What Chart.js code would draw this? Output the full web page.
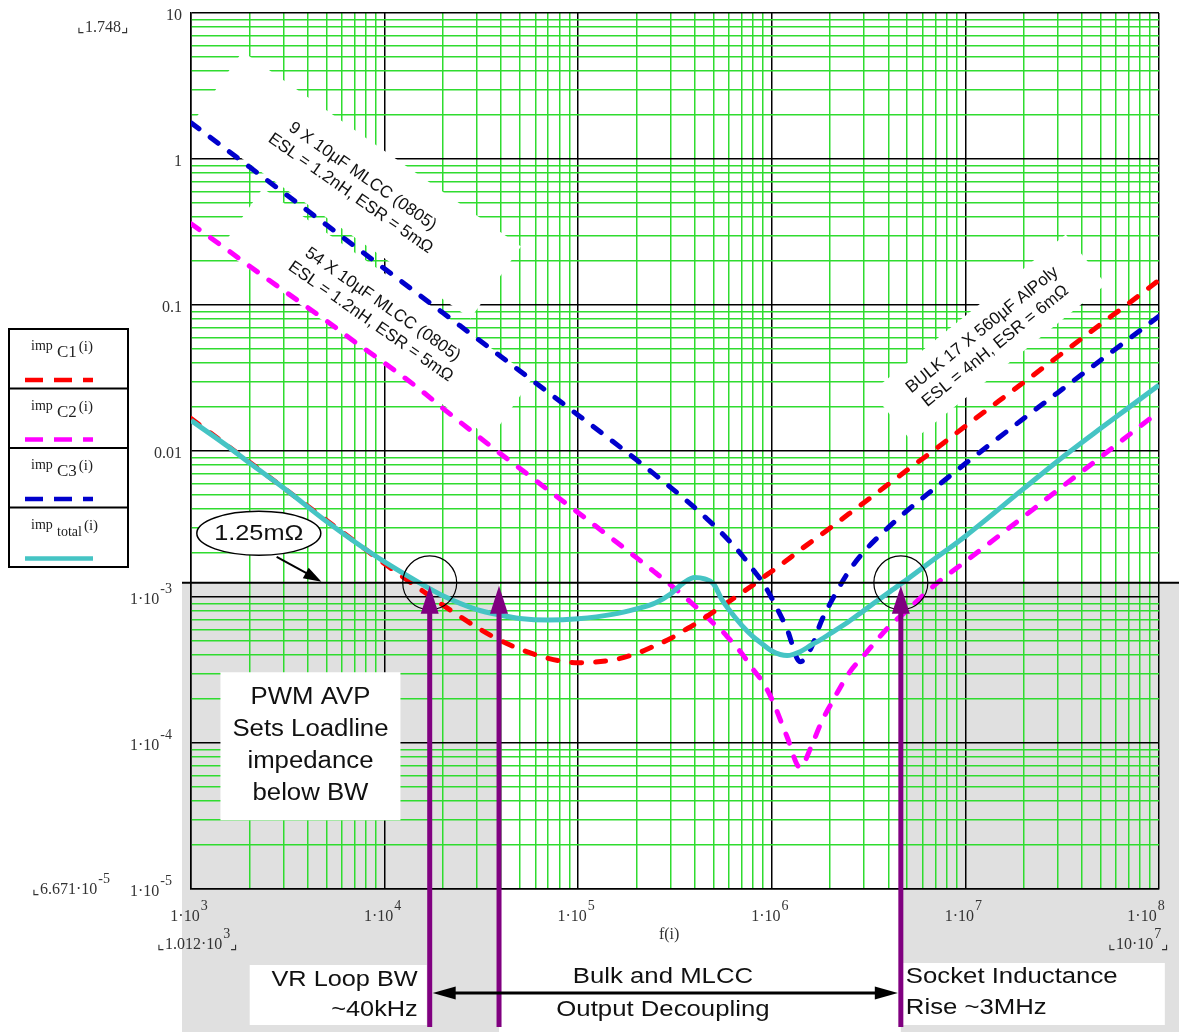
<!DOCTYPE html>
<html>
<head>
<meta charset="utf-8">
<title>VR output impedance</title>
<script src="https://cdn.jsdelivr.net/npm/chart.js@4.4.1/dist/chart.umd.min.js"></script>
<style>
  html, body { margin: 0; padding: 0; background: #fff; }
</style>
</head>
<body>
<canvas id="myChart" width="1179" height="1032"></canvas>
<script>
// frequency points (Hz) shared by all curves
const freq = [1e3, 1.5e3, 2e3, 3e3, 5e3, 7e3, 1e4, 1.5e4, 2e4, 3e4, 4e4, 5e4, 7e4,
  1e5, 1.5e5, 2e5, 2.5e5, 3e5, 3.5e5, 4e5, 4.5e5, 5e5, 5.5e5, 6e5, 7e5, 8e5, 9e5,
  1e6, 1.2e6, 1.4e6, 1.6e6, 1.8e6, 2e6, 2.5e6, 3e6, 4e6, 5e6, 7e6,
  1e7, 2e7, 3e7, 5e7, 7e7, 1e8];

// impedance in ohms
const impC1 = [0.0167, 0.0112, 0.0084, 0.0056, 0.00336, 0.00241, 0.00169, 0.00115, 0.00088, 0.00062, 0.0005, 0.00044, 0.00038,
  0.000355, 0.00037, 0.00041, 0.000465, 0.00052, 0.000587, 0.00065, 0.00072, 0.00079, 0.00086, 0.00093, 0.00107, 0.00121, 0.00136,
  0.0015, 0.00179, 0.0021, 0.00239, 0.00268, 0.00297, 0.00371, 0.00444, 0.00592, 0.0074, 0.0103,
  0.0148, 0.0295, 0.0443, 0.0739, 0.103, 0.148];

const impC2 = [0.36, 0.245, 0.185, 0.126, 0.078, 0.056, 0.04, 0.0268, 0.0196, 0.0128, 0.0095, 0.0076, 0.0054,
  0.00378, 0.0025, 0.00186, 0.00147, 0.00121, 0.00102, 0.00087, 0.00076, 0.00066, 0.00059, 0.00052, 0.00041, 0.00032, 0.00026,
  0.0002, 0.00011, 0.000068, 0.000095, 0.000138, 0.00018, 0.0003, 0.0004, 0.00062, 0.00081, 0.00122,
  0.00175, 0.00355, 0.0054, 0.0091, 0.0129, 0.0186];

const impC3 = [1.77, 1.18, 0.884, 0.59, 0.354, 0.253, 0.177, 0.118, 0.0884, 0.059, 0.0442, 0.0353, 0.0252,
  0.0176, 0.0117, 0.0087, 0.00686, 0.00564, 0.00476, 0.00409, 0.00355, 0.00312, 0.00275, 0.00244, 0.00194, 0.00154, 0.00125,
  0.00098, 0.0006, 0.00036, 0.00045, 0.00068, 0.0009, 0.0015, 0.00205, 0.003, 0.0039, 0.00561,
  0.0082, 0.0167, 0.0251, 0.0419, 0.0587, 0.0838];

const impTotal = [0.0162, 0.0111, 0.0083, 0.0056, 0.0033, 0.00239, 0.00174, 0.00126, 0.00102, 0.00082, 0.00075, 0.000713, 0.000695,
  0.00071, 0.00076, 0.00083, 0.00091, 0.00105, 0.00125, 0.00136, 0.00133, 0.00123, 0.00097, 0.00082, 0.00064, 0.000535, 0.000473,
  0.000427, 0.000397, 0.000422, 0.000469, 0.000513, 0.000561, 0.00068, 0.00081, 0.00107, 0.00132, 0.00184,
  0.00261, 0.00552, 0.00855, 0.0143, 0.0199, 0.0283];

const yTickValues = [10, 1, 0.1, 0.01, 1e-3, 1e-4, 1e-5];
const yTickLabels = ["10", "1", "0.1", "0.01", "1·10^-3", "1·10^-4", "1·10^-5"];
const xTickValues = [1e3, 1e4, 1e5, 1e6, 1e7, 1e8];
const xTickLabels = ["1·10^3", "1·10^4", "1·10^5", "1·10^6", "1·10^7", "1·10^8"];

const legendNames = ["C1", "C2", "C3", "total"];
const loadline = 1.25e-3;                 // 1.25 mOhm target
const bandFreqs = [1.71e4, 3.9e4, 4.64e6]; // crossing, loop BW, socket rise

const SERIF = '"Liberation Serif", "DejaVu Serif", serif';
const SANS = '"Liberation Sans", Arial, sans-serif';

function points(ys) {
  return freq.map((f, i) => ({ x: f, y: ys[i] }));
}

function decadeTicks(lo, hi) {
  const t = [];
  for (let e = lo; e < hi; e++) {
    for (let k = 1; k < 10; k++) t.push({ value: k * Math.pow(10, e) });
  }
  t.push({ value: Math.pow(10, hi) });
  return t;
}

function gridColor(c) {
  const l = Math.log10(c.tick.value);
  return Math.abs(l - Math.round(l)) < 1e-6 ? "#000" : "#2fdc2f";
}

// text helpers
function say(c, s, x, y, size, align, sx) {
  c.save();
  c.font = size + "px " + SANS;
  c.textBaseline = "middle";
  c.textAlign = align;
  c.fillStyle = "#111";
  c.translate(x, y);
  c.scale(sx, 1);
  c.fillText(s, 0, 0);
  c.restore();
}

// mathcad style number: "1·10^-3", optional trailing bracket
function mathLabel(c, s, x, y, align) {
  let [base, exp] = s.split("^");
  let tail = "";
  if (exp && exp.endsWith("⌟")) { tail = "⌟"; exp = exp.slice(0, -1); }
  c.save();
  c.fillStyle = "#333";
  c.textBaseline = "middle";
  c.textAlign = "left";
  c.font = "16px " + SERIF;
  const wb = c.measureText(base).width;
  const wt = c.measureText(tail).width;
  c.font = "14px " + SERIF;
  const we = exp ? c.measureText(exp).width + 1 : 0;
  const w = wb + we + wt;
  let x0 = x;
  if (align === "right") x0 = x - w;
  if (align === "center") x0 = x - w / 2;
  c.font = "16px " + SERIF;
  c.fillText(base, x0, y);
  if (exp) {
    c.font = "14px " + SERIF;
    c.fillText(exp, x0 + wb + 1, y - 11);
  }
  if (tail) {
    c.font = "16px " + SERIF;
    c.fillText(tail, x0 + wb + we, y);
  }
  c.restore();
  return w;
}

function arrowHead(c, x, y, ang, len, half) {
  c.save();
  c.translate(x, y);
  c.rotate(ang);
  c.beginPath();
  c.moveTo(0, 0);
  c.lineTo(-len, -half);
  c.lineTo(-len, half);
  c.closePath();
  c.fill();
  c.restore();
}

const noteLabels = [
  { f: 7.16e3, z: 0.664, deg: 35, w: 340, h: 88, lines: ["9 X 10µF MLCC (0805)", "ESL = 1.2nH, ESR = 5mΩ"] },
  { f: 9.1e3, z: 0.088, deg: 35, w: 330, h: 74, lines: ["54 X 10µF MLCC (0805)", "ESL = 1.2nH, ESR = 5mΩ"] },
  { f: 1.32e7, z: 0.0594, deg: -39, w: 250, h: 64, lines: ["BULK 17 X 560µF AlPoly", "ESL = 4nH, ESR = 6mΩ"] },
];

const decorations = {
  id: "decorations",
  beforeDraw(chart) {
    const c = chart.ctx, a = chart.chartArea;
    const sx = chart.scales.x, sy = chart.scales.y;
    const yl = sy.getPixelForValue(loadline);
    const x2 = sx.getPixelForValue(bandFreqs[1]);
    const x3 = sx.getPixelForValue(bandFreqs[2]);
    c.save();
    c.fillStyle = "#fff";
    c.fillRect(0, 0, chart.width, chart.height);
    c.fillStyle = "#e0e0e0";
    c.fillRect(a.left - 9, yl, x2 - a.left + 9, chart.height - yl);
    c.fillRect(x3, yl, chart.width - x3, chart.height - yl);
    c.restore();
  },
  beforeDatasetsDraw(chart) {
    const c = chart.ctx;
    const sx = chart.scales.x, sy = chart.scales.y;
    const x1 = sx.getPixelForValue(bandFreqs[0]);
    const x3 = sx.getPixelForValue(bandFreqs[2]);
    c.save();
    c.fillStyle = "#fff";
    // white text regions that cut the grid
    noteLabels.forEach(n => {
      c.save();
      c.translate(sx.getPixelForValue(n.f), sy.getPixelForValue(n.z));
      c.rotate(n.deg * Math.PI / 180);
      c.fillRect(-n.w / 2, -n.h / 2, n.w, n.h);
      c.restore();
    });
    // PWM AVP box
    const bx = sx.getPixelForValue(4.14e3), by = sy.getPixelForValue(9.5e-5);
    c.fillRect(bx - 90, by - 74, 180, 148);
    // bottom boxes
    c.fillRect(x1 - 180, 965, 177, 60);
    c.fillRect(x3 + 2, 963, 262, 62);
    c.restore();
  },
  afterDatasetsDraw(chart) {
    const c = chart.ctx, a = chart.chartArea;
    const sx = chart.scales.x, sy = chart.scales.y;
    const X = f => sx.getPixelForValue(f);
    const Y = z => sy.getPixelForValue(z);
    const yl = Y(loadline);
    const [x1, x2, x3] = bandFreqs.map(X);
    c.save();

    // 1.25 mOhm line
    c.strokeStyle = "#000";
    c.lineWidth = 2;
    c.beginPath();
    c.moveTo(a.left - 9, yl);
    c.lineTo(chart.width, yl);
    c.stroke();

    // crossing circles
    c.lineWidth = 1.2;
    [x1, x3].forEach(x => {
      c.beginPath();
      c.arc(x, yl, 27, 0, Math.PI * 2);
      c.stroke();
    });

    // ellipse callout
    const ex = X(2.24e3), ey = Y(2.73e-3);
    c.fillStyle = "#fff";
    c.beginPath();
    c.ellipse(ex, ey, 62, 22, 0, 0, Math.PI * 2);
    c.fill();
    c.lineWidth = 1.5;
    c.stroke();
    say(c, "1.25mΩ", ex, ey + 1, 22, "center", 1.15);
    const ax0 = X(2.77e3), ay0 = Y(1.88e-3), ax1 = X(4.72e3), ay1 = yl - 1;
    c.lineWidth = 2;
    c.beginPath();
    c.moveTo(ax0, ay0);
    c.lineTo(ax1 - 10, ay1 - 6);
    c.stroke();
    c.fillStyle = "#000";
    arrowHead(c, ax1, ay1, Math.atan2(ay1 - ay0, ax1 - ax0), 18, 6);

    // purple markers
    c.strokeStyle = "#800080";
    c.fillStyle = "#800080";
    c.lineWidth = 5;
    [x1, x2, x3].forEach(x => {
      c.beginPath();
      c.moveTo(x, 1027);
      c.lineTo(x, yl + 28);
      c.stroke();
      arrowHead(c, x, yl + 3, -Math.PI / 2, 28, 9);
    });

    // double arrow across the decoupling band
    c.strokeStyle = "#000";
    c.fillStyle = "#000";
    c.lineWidth = 3;
    c.beginPath();
    c.moveTo(x1 + 20, 993);
    c.lineTo(x3 - 20, 993);
    c.stroke();
    arrowHead(c, x1 + 3, 993, Math.PI, 23, 6.5);
    arrowHead(c, x3 - 3, 993, 0, 23, 6.5);

    // rotated capacitor notes
    noteLabels.forEach(n => {
      c.save();
      c.translate(X(n.f), Y(n.z));
      c.rotate(n.deg * Math.PI / 180);
      c.fillStyle = "#111";
      c.font = "17px " + SANS;
      c.textAlign = "center";
      c.textBaseline = "middle";
      c.fillText(n.lines[0], 0, -10.5);
      c.fillText(n.lines[1], 0, 10.5);
      c.restore();
    });

    // PWM AVP text
    const bx = X(4.14e3), by = Y(9.5e-5);
    ["PWM AVP", "Sets Loadline", "impedance", "below BW"].forEach((s, i) => {
      say(c, s, bx, by - 49 + i * 32, 23, "center", 1.12);
    });

    // bottom notes
    say(c, "VR Loop BW", x1 - 12, 980, 22, "right", 1.15);
    say(c, "~40kHz", x1 - 12, 1010, 22, "right", 1.15);
    const xm = X(2.74e5);
    say(c, "Bulk and MLCC", xm, 977, 22, "center", 1.17);
    say(c, "Output Decoupling", xm, 1010, 22, "center", 1.17);
    say(c, "Socket Inductance", x3 + 5, 977, 22, "left", 1.17);
    say(c, "Rise ~3MHz", x3 + 5, 1008, 22, "left", 1.17);

    // axis labels
    yTickValues.forEach((v, i) => {
      const s = yTickLabels[i];
      const y = Y(v) + 3;
      if (s.includes("^")) mathLabel(c, s, a.left - 19, y, "right");
      else mathLabel(c, s, a.left - 9, y, "right");
    });
    xTickValues.forEach((v, i) => {
      let x = X(v) - 2;
      if (i === xTickValues.length - 1) x = X(v) - 13;
      mathLabel(c, xTickLabels[i], x, 917, "center");
    });
    mathLabel(c, "f(i)", X(2.95e5), 935, "center");
    mathLabel(c, "⌞1.748⌟", 77, 28, "left");
    mathLabel(c, "⌞6.671·10^-5", 32, 890, "left");
    mathLabel(c, "⌞1.012·10^3⌟", 157, 945, "left");
    mathLabel(c, "⌞10·10^7⌟", 1108, 945, "left");

    // legend
    const lx = 9, ly = 329, lw = 119, lh = 59.5;
    c.fillStyle = "#fff";
    c.fillRect(lx, ly, lw, lh * 4);
    c.strokeStyle = "#000";
    c.lineWidth = 2;
    c.strokeRect(lx, ly, lw, lh * 4);
    for (let i = 1; i < 4; i++) {
      c.beginPath();
      c.moveTo(lx, ly + lh * i);
      c.lineTo(lx + lw, ly + lh * i);
      c.stroke();
    }
    chart.data.datasets.forEach((ds, i) => {
      const top = ly + lh * i;
      c.fillStyle = "#222";
      c.textAlign = "left";
      c.textBaseline = "alphabetic";
      c.font = "14px " + SERIF;
      c.fillText("imp", 31, top + 21);
      const big = legendNames[i] !== "total";
      c.font = (big ? 17 : 14) + "px " + SERIF;
      c.fillText(legendNames[i], 57, top + 28);
      const ws = c.measureText(legendNames[i]).width;
      c.font = "15px " + SERIF;
      c.fillText("(i)", 59 + ws, top + 22);
      c.strokeStyle = ds.borderColor;
      c.lineWidth = 4.5;
      c.setLineDash(ds.borderDash ? [18, 11] : []);
      c.beginPath();
      c.moveTo(25, top + 51);
      c.lineTo(93, top + 51);
      c.stroke();
      c.setLineDash([]);
    });

    c.restore();
  }
};

const dashed = { borderWidth: 5, borderDash: [10, 14], borderCapStyle: "round" };

new Chart(document.getElementById("myChart"), {
  type: "scatter",
  data: {
    datasets: [
      { label: "impC1", data: points(impC1), borderColor: "#ff0000", order: 1, ...dashed },
      { label: "impC2", data: points(impC2), borderColor: "#ff00ff", order: 2, ...dashed },
      { label: "impC3", data: points(impC3), borderColor: "#0000cc", order: 3, ...dashed },
      { label: "impTotal", data: points(impTotal), borderColor: "#45c4c4", borderWidth: 5, order: 0 },
    ],
  },
  options: {
    responsive: false,
    animation: false,
    devicePixelRatio: 1,
    events: [],
    layout: { padding: { left: 191, right: 20, top: 13, bottom: 143 } },
    datasets: {
      scatter: { showLine: true, pointRadius: 0, cubicInterpolationMode: "monotone", fill: false },
    },
    plugins: { legend: { display: false }, tooltip: { enabled: false } },
    scales: {
      x: {
        type: "logarithmic",
        min: 1e3,
        max: 1e8,
        afterBuildTicks: s => { s.ticks = decadeTicks(3, 8); },
        ticks: { display: false },
        grid: { color: gridColor, lineWidth: 1.5, drawTicks: false },
        border: { display: true, color: "#000", width: 1.5 },
      },
      y: {
        type: "logarithmic",
        min: 1e-5,
        max: 10,
        afterBuildTicks: s => { s.ticks = decadeTicks(-5, 1); },
        ticks: { display: false },
        grid: { color: gridColor, lineWidth: 1.5, drawTicks: false },
        border: { display: true, color: "#000", width: 1.5 },
      },
    },
  },
  plugins: [decorations],
});
</script>
</body>
</html>
